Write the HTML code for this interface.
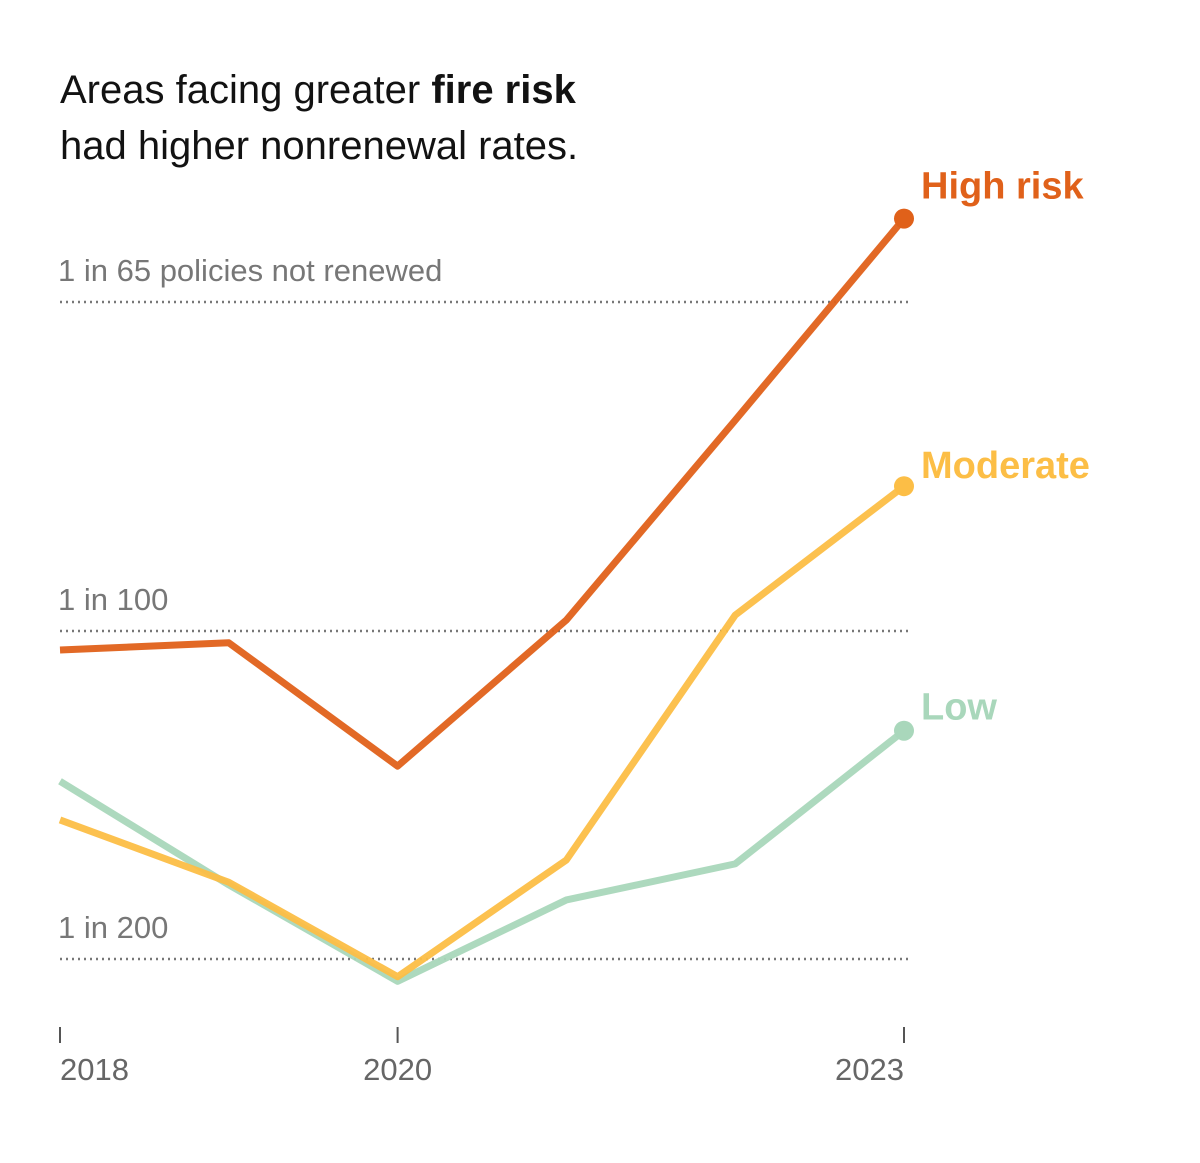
<!DOCTYPE html>
<html><head><meta charset="utf-8"><style>
body{margin:0;background:#fff;width:1200px;height:1158px;overflow:hidden;font-family:"Liberation Sans",sans-serif}
</style></head><body>
<svg width="1200" height="1158" id="c">
<text x="60" y="103" font-size="40" fill="#121212">Areas facing greater <tspan font-weight="bold">fire risk</tspan></text>
<text x="60" y="159" font-size="40" fill="#121212">had higher nonrenewal rates.</text>
<g id="grid"></g><g id="lines"></g><g id="xaxis"></g>
</svg>
<script>
const years=[2018,2019,2020,2021,2022,2023];
const high=[0.971,0.982,0.794,1.018,1.345,1.675];
const moderate=[0.712,0.617,0.473,0.651,1.026,1.237];
const low=[0.771,0.613,0.466,0.590,0.645,0.848];
const gridVals=[1/0.65,1.0,0.5];
const gridLabels=["1 in 65 policies not renewed","1 in 100","1 in 200"];
const xTicks=[2018,2020,2023];
const NS="http://www.w3.org/2000/svg";
const x=v=>60+(v-2018)*(904-60)/5;
const y=v=>v<=1?959-(v-0.5)*(959-631)/0.5:631-(v-1)*(631-302)/(1/0.65-1);
function mk(t,a,p){const e=document.createElementNS(NS,t);for(const k in a)e.setAttribute(k,a[k]);p.appendChild(e);return e;}
const g=document.getElementById('grid');
gridVals.forEach((v,i)=>{
 const l=mk('line',{x1:60,x2:908,y1:y(v),y2:y(v),stroke:'#777','stroke-width':2.5,'stroke-dasharray':'2 4'},g);
 
 
 const t=mk('text',{x:58,y:y(v)-21,'font-size':31,fill:'#777'},g);t.textContent=gridLabels[i];
 
 
});
const xa=document.getElementById('xaxis');
xTicks.forEach((v,i)=>{
 const l=mk('line',{x1:x(v),x2:x(v),y1:1027,y2:1043,stroke:'#555','stroke-width':2},xa);
 
 
 const t=mk('text',{x:x(v),y:1080,'font-size':31,fill:'#666','text-anchor':i==0?'start':(i==2?'end':'middle')},xa);t.textContent=v;
 
 
});
const lg=document.getElementById('lines');
const series=[["low",low,"#a9d7bb","Low",-11],["moderate",moderate,"#fcbe46","Moderate",-8],["high",high,"#e0611a","High risk",-20]];
series.forEach(([n,d,c,lab,dy])=>{
 const p=mk('polyline',{points:d.map((v,i)=>x(years[i])+','+y(v)).join(' '),fill:'none',stroke:c,'stroke-width':7,'stroke-linejoin':'round',opacity:0.95},lg);
 
 
 const last=d[d.length-1];
 const ci=mk('circle',{cx:x(2023),cy:y(last),r:10,fill:c},lg);
 
 
 const t=mk('text',{x:921,y:y(last)+dy,'font-size':38,'font-weight':'bold',fill:c},lg);t.textContent=lab;
 
 
});
</script>
</body></html>
